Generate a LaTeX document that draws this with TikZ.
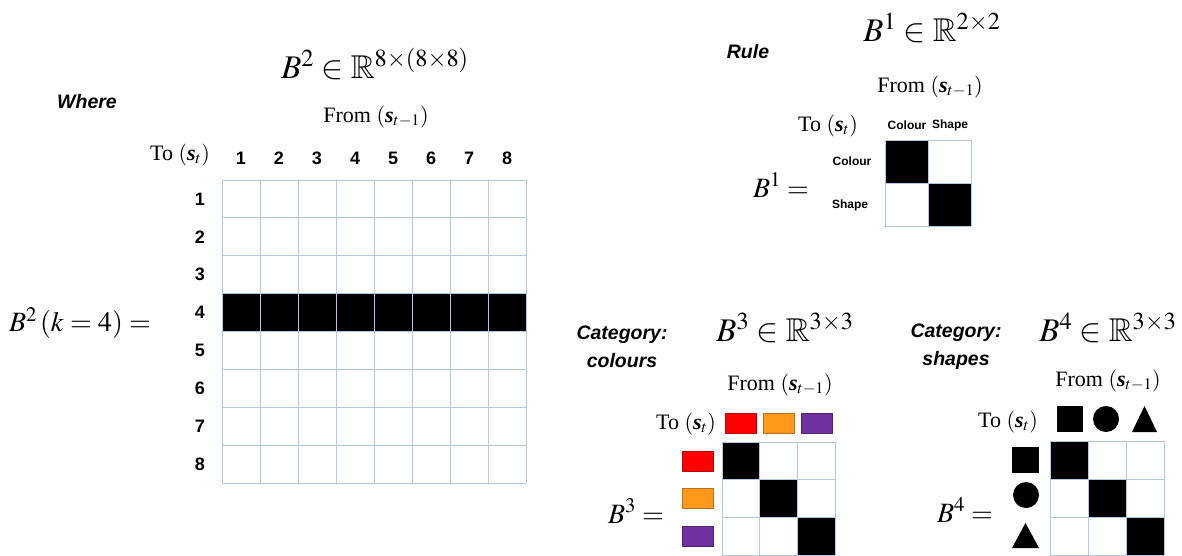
\documentclass[tikz,border=0pt]{standalone}
\usepackage{amsmath,amssymb}
\usepackage{mathptmx}
\usepackage{fontspec}
\setmainfont{Liberation Serif}
\setsansfont{Liberation Sans}
\usetikzlibrary{positioning}

\definecolor{griglia}{RGB}{180,199,231}
\definecolor{rosso}{RGB}{255,0,0}
\definecolor{rossoscuro}{RGB}{190,0,0}
\definecolor{arancio}{RGB}{255,153,28}
\definecolor{arancioscuro}{RGB}{190,110,25}
\definecolor{viola}{RGB}{112,48,160}
\definecolor{violascuro}{RGB}{80,34,118}

\newcommand{\stato}{$\left(\textbf{\textit{s}}_t\right)$}
\newcommand{\statoprec}{$\left(\textbf{\textit{s}}_{t-1}\right)$}

\tikzset{
  linea/.style={draw=griglia, line width=0.9pt},
  titolo/.style={font=\fontsize{33}{36}\selectfont, inner sep=0pt},
  uguale/.style={font=\fontsize{28}{32}\selectfont, inner sep=0pt},
  etichetta/.style={font=\fontsize{22}{26}\selectfont, inner sep=0pt},
  num/.style={font=\sffamily\bfseries\fontsize{18}{20}\selectfont, inner sep=0pt},
  piccolo/.style={font=\sffamily\bfseries\fontsize{12}{14}\selectfont, inner sep=0pt},
  corsivo/.style={font=\sffamily\bfseries\itshape\fontsize{19.5}{28}\selectfont, align=center, inner sep=0pt},
  campione/.style={rectangle, minimum width=31pt, minimum height=20pt, inner sep=0pt, line width=0.8pt},
}

\begin{document}
\begin{tikzpicture}[x=1pt, y=-1pt, line join=round]
\useasboundingbox (0,0) rectangle (1182,555);

% Matrice B2 (8x8), riga 4 piena
\def\xA{222} \def\yA{180} \def\dA{38} \def\hA{37.875}
\fill (\xA,\yA+3*\hA) rectangle (\xA+8*\dA,\yA+4*\hA);
\foreach \i in {0,...,8} {
  \draw[linea] (\xA+\i*\dA,\yA) -- (\xA+\i*\dA,\yA+8*\hA);
  \draw[linea] (\xA,\yA+\i*\hA) -- (\xA+8*\dA,\yA+\i*\hA);
}
\foreach \i in {1,...,8} {
  \node[num] (col\i) at ({\xA+(\i-0.5)*\dA},158) {\i};
  \node[num] (rig\i) at ({200},{\yA+(\i-0.5)*\hA}) {\i};
}

% Testi B2
\node[titolo] (tB2) at (375,64) {$B^2 \in \mathbb{R}^{8\times(8\times8)}$};
\node[corsivo] (dove) at (87,102) {Where};
\node[etichetta] (daB2) at (376,117) {From \statoprec};
\node[etichetta] (aB2) at (180,155) {To \stato};
\node[uguale] (eqB2) at (80,323) {$B^2\left(k=4\right) =$};

% Matrice B1 (2x2)
\def\xB{885} \def\yB{140} \def\dB{43}
\fill (\xB,\yB) rectangle (\xB+\dB,\yB+\dB);
\fill (\xB+\dB,\yB+\dB) rectangle (\xB+2*\dB,\yB+2*\dB);
\foreach \i in {0,1,2} {
  \draw[linea] (\xB+\i*\dB,\yB) -- (\xB+\i*\dB,\yB+2*\dB);
  \draw[linea] (\xB,\yB+\i*\dB) -- (\xB+2*\dB,\yB+\i*\dB);
}

% Testi B1
\node[corsivo] (regola) at (748,52) {Rule};
\node[titolo] (tB1) at (932,28) {$B^1 \in \mathbb{R}^{2\times2}$};
\node[etichetta] (daB1) at (930,87) {From \statoprec};
\node[etichetta] (aB1) at (828,126) {To \stato};
\node[piccolo] (colC) at (907,125) {Colour};
\node[piccolo] (colS) at (950,125) {Shape};
\node[piccolo] (rigC) at (852,161) {Colour};
\node[piccolo] (rigS) at (850,205) {Shape};
\node[uguale] (eqB1) at (781,185) {$B^1 =$};

% Matrice B3 (colori)
\def\xC{722} \def\yC{442} \def\dC{37.8}
\foreach \i in {0,1,2}
  \fill (\xC+\i*\dC,\yC+\i*\dC) rectangle (\xC+\i*\dC+\dC,\yC+\i*\dC+\dC);
\foreach \i in {0,...,3} {
  \draw[linea] (\xC+\i*\dC,\yC) -- (\xC+\i*\dC,\yC+3*\dC);
  \draw[linea] (\xC,\yC+\i*\dC) -- (\xC+3*\dC,\yC+\i*\dC);
}
\node[campione, fill=rosso, draw=rossoscuro] (cR) at ({\xC+0.5*\dC},423) {};
\node[campione, fill=arancio, draw=arancioscuro] (cA) at ({\xC+1.5*\dC},423) {};
\node[campione, fill=viola, draw=violascuro] (cV) at ({\xC+2.5*\dC},423) {};
\node[campione, fill=rosso, draw=rossoscuro] (rR) at (698,{\yC+0.5*\dC}) {};
\node[campione, fill=arancio, draw=arancioscuro] (rA) at (698,{\yC+1.5*\dC}) {};
\node[campione, fill=viola, draw=violascuro] (rV) at (698,{\yC+2.5*\dC}) {};

% Testi B3
\node[corsivo] (catC) at (622,347) {Category:\\colours};
\node[titolo] (tB3) at (785,328) {$B^3 \in \mathbb{R}^{3\times3}$};
\node[etichetta] (daB3) at (780,385) {From \statoprec};
\node[etichetta] (aB3) at (686,424) {To \stato};
\node[uguale] (eqB3) at (636,511) {$B^3 =$};

% Matrice B4 (forme)
\def\xD{1050} \def\yD{441} \def\dD{38}
\foreach \i in {0,1,2}
  \fill (\xD+\i*\dD,\yD+\i*\dD) rectangle (\xD+\i*\dD+\dD,\yD+\i*\dD+\dD);
\foreach \i in {0,...,3} {
  \draw[linea] (\xD+\i*\dD,\yD) -- (\xD+\i*\dD,\yD+3*\dD);
  \draw[linea] (\xD,\yD+\i*\dD) -- (\xD+3*\dD,\yD+\i*\dD);
}
% quadrato, cerchio, triangolo
\fill (1057,406) rectangle (1083,432);
\fill (1106,419) circle (13);
\fill (1132,432) -- (1157,432) -- (1144.5,406) -- cycle;
\fill (1012,447) rectangle (1039,473);
\fill (1026,495) circle (13);
\fill (1012,548) -- (1039,548) -- (1025.5,523) -- cycle;

% Testi B4
\node[corsivo] (catF) at (956,347) {Category:\\shapes};
\node[titolo] (tB4) at (1108,328) {$B^4 \in \mathbb{R}^{3\times3}$};
\node[etichetta] (daB4) at (1108,381) {From \statoprec};
\node[etichetta] (aB4) at (1008,422) {To \stato};
\node[uguale] (eqB4) at (965,510) {$B^4 =$};

\end{tikzpicture}
\end{document}
